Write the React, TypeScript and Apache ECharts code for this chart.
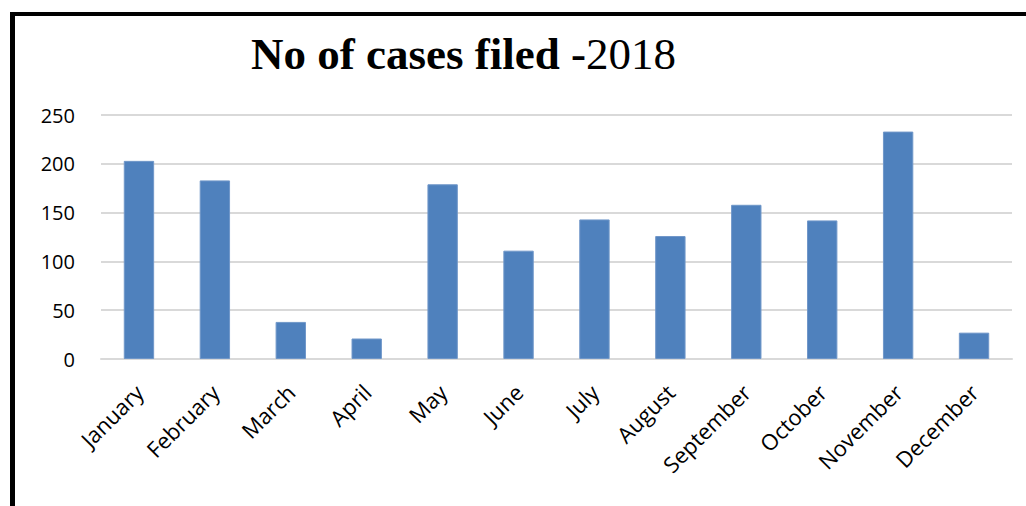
import React, { useEffect, useRef } from "react";
import * as echarts from "echarts";

const titleMain = "No of cases filed -";
const titleYear = "2018";
const months = [
  "January", "February", "March", "April", "May", "June",
  "July", "August", "September", "October", "November", "December",
];
const cases = [203, 183, 38, 21, 179, 111, 143, 126, 158, 142, 233, 27];
const yTicks = { min: 0, max: 250, interval: 50 };

export default function App() {
  const ref = useRef<HTMLDivElement>(null);
  useEffect(() => {
    if (!ref.current) return;
    const chart = echarts.init(ref.current, null, { renderer: "svg" });
    chart.setOption({
      animation: false,
      backgroundColor: "#ffffff",
      title: {
        text: `{b|${titleMain}}{r|${titleYear}}`,
        left: 251,
        top: 31,
        padding: 0,
        textStyle: {
          rich: {
            b: { fontFamily: "Liberation Serif", fontWeight: "bold", fontSize: 45, color: "#000" },
            r: { fontFamily: "Liberation Serif", fontWeight: "normal", fontSize: 45, color: "#000" },
          },
        },
      },
      graphic: [
        { type: "rect", shape: { x: 10, y: 12, width: 5, height: 494 }, style: { fill: "#000" } },
        { type: "rect", shape: { x: 10, y: 12, width: 1016, height: 4 }, style: { fill: "#000" } },
      ],
      grid: { left: 101, right: 14, top: 115, bottom: 147, outerBoundsMode: "none", containLabel: false },
      xAxis: {
        type: "category",
        data: months,
        axisLine: { lineStyle: { color: "#d9d9d9", width: 2 } },
        axisTick: { show: false },
        axisLabel: {
          rotate: 45,
          margin: 29,
          fontFamily: "Open Sans",
          fontSize: 22,
          color: "#000",
          interval: 0,
        },
      },
      yAxis: {
        type: "value",
        min: yTicks.min,
        max: yTicks.max,
        interval: yTicks.interval,
        axisLine: { show: false },
        axisTick: { show: false },
        splitLine: { lineStyle: { color: "#d9d9d9", width: 2 } },
        axisLabel: { margin: 26, fontFamily: "Open Sans", fontSize: 20, color: "#000" },
      },
      series: [
        {
          type: "bar",
          data: cases,
          barWidth: "40%",
          itemStyle: { color: "#4f81bd", borderColor: "#7097c9", borderWidth: 1 },
        },
      ],
    });
    return () => chart.dispose();
  }, []);
  return (
    <div
      ref={ref}
      style={{ position: "fixed", left: 0, top: 0, width: 1026, height: 506 }}
    />
  );
}
